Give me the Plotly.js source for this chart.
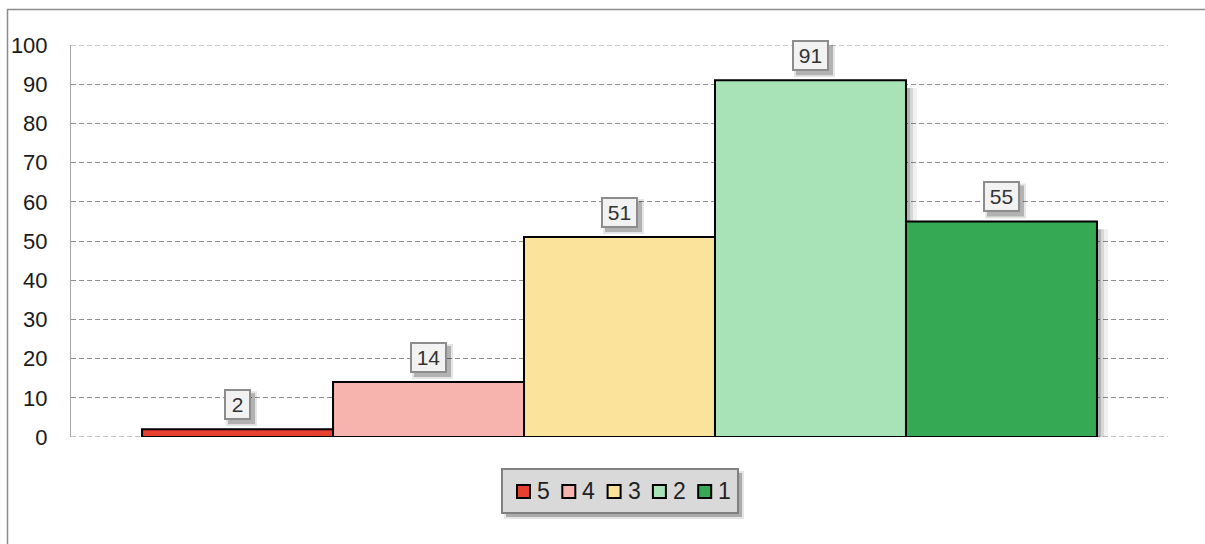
<!DOCTYPE html>
<html>
<head>
<meta charset="utf-8">
<script src="https://cdn.plot.ly/plotly-3.0.1.min.js"></script>
<style>
html,body{margin:0;padding:0;background:#fff;}
#chart{width:1205px;height:544px;}
</style>
</head>
<body>
<div id="chart"></div>
<script>
const seriesNames = ['5', '4', '3', '2', '1'];
const seriesValues = [2, 14, 51, 91, 55];
const seriesColors = ['#E8402F', '#F7B4AF', '#FBE39C', '#A7E3B7', '#35A954'];
const category = [''];
const yTicks = [0, 10, 20, 30, 40, 50, 60, 70, 80, 90, 100];

const FONT = 'Liberation Sans, Arial, sans-serif';
const GRID = '#8F8F8F';
const DASH = '5px,3px';

const traces = seriesNames.map((name, i) => ({
  type: 'bar',
  name: name,
  x: category,
  y: [seriesValues[i]],
  marker: {color: seriesColors[i], line: {color: '#000', width: 2}},
  hoverinfo: 'none',
  showlegend: false
}));

const n = seriesNames.length;
const bargap = 0.1295;
const groupW = 1 - bargap;
const barW = groupW / n;
const centerOf = i => -0.5 + bargap / 2 + barW * (i + 0.5);

const L = 71, R = 1168, T = 45, B = 437;
const px = v => (v - L) / (R - L);
const py = v => (B - v) / (B - T);

const annotations = [];
const shapes = [];

// bar soft shadows (right side)
seriesNames.forEach((name, i) => {
  const xr = centerOf(i) + barW / 2;
  [[1, 4, 0.30], [4, 7, 0.16], [7, 11, 0.06]].forEach(([a, b, o]) => {
    shapes.push({
      type: 'rect', layer: 'between', xref: 'x', yref: 'y',
      xsizemode: 'pixel', xanchor: xr, x0: a, x1: b,
      y0: 0, y1: Math.max(0, seriesValues[i] - 2),
      fillcolor: 'rgba(0,0,0,' + o + ')', line: {width: 0}
    });
  });
});

// value labels: box + shadow
const YS = 9;
const BOXH = 31;
seriesNames.forEach((name, i) => {
  const txt = String(seriesValues[i]);
  const tw = txt.length === 1 ? 17 : 27;
  const boxW = tw + 10;
  const xc = centerOf(i);
  [[4, 0.22, 0], [4, 0.10, 2]].forEach(([off, o, grow]) => {
    shapes.push({
      type: 'rect', layer: 'above', xref: 'x', yref: 'y',
      xsizemode: 'pixel', ysizemode: 'pixel',
      xanchor: xc, yanchor: seriesValues[i],
      x0: -boxW / 2 + off - grow, x1: boxW / 2 + off + grow,
      y0: YS - off - grow, y1: YS + BOXH - off + grow,
      fillcolor: 'rgba(0,0,0,' + o + ')', line: {width: 0}
    });
  });
  annotations.push({
    xref: 'x', yref: 'y', x: xc, y: seriesValues[i],
    yanchor: 'bottom', showarrow: false, yshift: YS,
    text: txt, width: tw, height: BOXH - 10,
    font: {family: FONT, size: 21, color: '#333'},
    borderpad: 3, borderwidth: 2,
    bgcolor: '#F2F2F2', bordercolor: '#8C8C8C'
  });
});

// chart border (top + left visible)
shapes.push({type: 'line', xref: 'paper', yref: 'paper', x0: px(7), x1: px(1210), y0: py(9.5), y1: py(9.5),
  line: {color: '#8C8C8C', width: 1.5}});
shapes.push({type: 'line', xref: 'paper', yref: 'paper', x0: px(7.5), x1: px(7.5), y0: py(9), y1: py(550),
  line: {color: '#8C8C8C', width: 1.5}});
// edge gridlines (0 and 100)
[0, 100].forEach(v => shapes.push({type: 'line', xref: 'paper', yref: 'y', x0: 0, x1: 1, y0: v, y1: v,
  line: {color: GRID, width: 1, dash: DASH}, layer: 'below'}));

// legend (drawn box, keys and labels)
const LG = {x0: 502, x1: 738, y0: 469, y1: 513, key0: 517, step: 45.3, keySize: 13, textGap: 6};
[[0.25, 0], [0.10, 2]].forEach(([o, g]) => shapes.push({
  type: 'rect', xref: 'paper', yref: 'paper', layer: 'above',
  x0: px(LG.x0 + 4 - g), x1: px(LG.x1 + 4 + g), y0: py(LG.y0 + 4 - g), y1: py(LG.y1 + 4 + g),
  fillcolor: 'rgba(0,0,0,' + o + ')', line: {width: 0}
}));
shapes.push({
  type: 'rect', xref: 'paper', yref: 'paper', layer: 'above',
  x0: px(LG.x0), x1: px(LG.x1), y0: py(LG.y0), y1: py(LG.y1),
  fillcolor: '#D9D9D9', line: {color: '#808080', width: 2}
});
const lgMid = (LG.y0 + LG.y1) / 2 + 0.5;
seriesNames.forEach((name, i) => {
  const kx = LG.key0 + i * LG.step;
  shapes.push({
    type: 'rect', xref: 'paper', yref: 'paper', layer: 'above',
    x0: px(kx), x1: px(kx + LG.keySize),
    y0: py(lgMid - LG.keySize / 2), y1: py(lgMid + LG.keySize / 2),
    fillcolor: seriesColors[i], line: {color: '#000', width: 2}
  });
  annotations.push({
    xref: 'paper', yref: 'paper', x: px(kx + LG.keySize + LG.textGap - 1), y: py(lgMid),
    xanchor: 'left', yanchor: 'middle', showarrow: false,
    text: name, font: {family: FONT, size: 23, color: '#222'}
  });
});

const layout = {
  width: 1205, height: 544,
  margin: {l: 71, r: 37, t: 45, b: 107},
  paper_bgcolor: '#fff', plot_bgcolor: '#fff',
  barmode: 'group', bargap: bargap, bargroupgap: 0,
  showlegend: false,
  xaxis: {
    type: 'category', range: [-0.5, 0.5], showticklabels: false,
    showgrid: false, zeroline: false, showline: false, fixedrange: true
  },
  yaxis: {
    range: [0, 100], tickvals: yTicks, ticktext: yTicks.map(String),
    showgrid: true, gridcolor: GRID, griddash: DASH, gridwidth: 1,
    zeroline: false, showline: true, linecolor: '#A6A6A6', linewidth: 1,
    ticks: '', ticklabelstandoff: 18,
    tickfont: {family: FONT, size: 22, color: '#1a1a1a'}
  },
  annotations: annotations,
  shapes: shapes
};

Plotly.newPlot('chart', traces, layout, {displayModeBar: false, staticPlot: true});
</script>
</body>
</html>
